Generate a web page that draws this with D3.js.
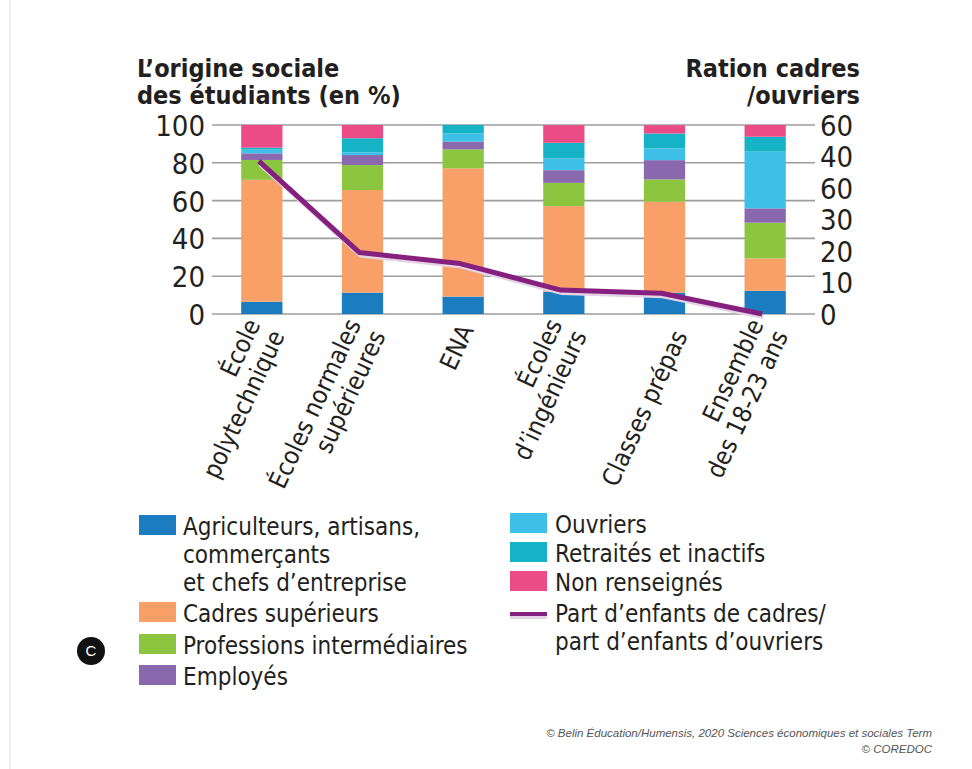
<!doctype html>
<html>
<head>
<meta charset="utf-8">
<title></title>
<style>
body{ margin:0; background:#fff; }
svg text{ font-family:"Liberation Sans Narrow","DejaVu Sans Condensed",sans-serif; fill:#231f20; }
</style>
</head>
<body>
<svg></svg>
<script src="https://cdn.jsdelivr.net/npm/d3@7"></script>
<script>
var width = 972;
var height = 769;

// données
var categories = [["École","polytechnique"],["Écoles normales","supérieures"],["ENA"],["Écoles","d’ingénieurs"],["","Classes prépas"],["Ensemble","des 18-23 ans"]];
var agriculteurs = [6.5, 11.3, 9.2, 11.8, 11.3, 12.3];
var cadres       = [64.5, 54.3, 67.9, 45.3, 48.1, 17.1];
var professions  = [10.5, 13.2, 10.0, 12.3, 11.8, 18.9];
var employes     = [3.5, 5.3, 4.1, 6.7, 10.2, 7.6];
var ouvriers     = [2.0, 1.5, 4.4, 6.2, 6.2, 30.0];
var retraites    = [1.0, 7.4, 4.4, 8.3, 7.9, 7.9];
var nonRens      = [12.0, 7.0, 0, 9.3, 4.4, 6.2];
var ratio        = [48.5, 19.5, 16.0, 7.6, 6.6, 0];
var leftTicks  = [0, 20, 40, 60, 80, 100];
var rightTicks = [0, 10, 20, 30, 40, 50, 60];
var rightTickLabels = ["0","10","20","30","60","40","60"];

var series = [
  {name:"agri", values:agriculteurs, color:"#1b7dc0"},
  {name:"cadres", values:cadres, color:"#f9a068"},
  {name:"prof", values:professions, color:"#8cc641"},
  {name:"emp", values:employes, color:"#8a68ae"},
  {name:"ouv", values:ouvriers, color:"#3dbfe8"},
  {name:"ret", values:retraites, color:"#16b3c7"},
  {name:"nr", values:nonRens, color:"#ec4c86"}
];

var svg = d3.select('svg').attr('width', width).attr('height', height);
svg.append("line").attr("x1",10).attr("x2",10).attr("y1",0).attr("y2",height)
   .attr("stroke","#e4e4e4").attr("stroke-width",1);

var x = d3.scaleBand().domain(d3.range(categories.length))
          .range([212, 815]).paddingInner(0.59).paddingOuter(0.29);
var y = d3.scaleLinear().domain([0, 100]).range([314, 125]);
var y2 = d3.scaleLinear().domain([0, 60]).range([314, 125]);

// grille
svg.append("g").selectAll("line").data(leftTicks).enter().append("line")
   .attr("x1", 212).attr("x2", 815)
   .attr("y1", function(d){ return y(d); }).attr("y2", function(d){ return y(d); })
   .attr("stroke", "#9d9d9d").attr("stroke-width", 1.6);

// axes
var axL = svg.append("g").attr("transform","translate(212,0)")
   .call(d3.axisLeft(y).tickValues(leftTicks).tickSize(0).tickPadding(7));
axL.select(".domain").remove();
axL.selectAll("text").style("font-size","29px").attr("dy","0.36em");

var axR = svg.append("g").attr("transform","translate(815,0)")
   .call(d3.axisRight(y2).tickValues(rightTicks).tickSize(0).tickPadding(5)
         .tickFormat(function(d,i){ return rightTickLabels[i]; }));
axR.select(".domain").remove();
axR.selectAll("text").style("font-size","29px").attr("dy","0.36em");

// barres empilées
var stackData = categories.map(function(c,i){
  var o = {i:i};
  series.forEach(function(s){ o[s.name] = s.values[i]; });
  return o;
});
var stacked = d3.stack().keys(series.map(function(s){ return s.name; }))(stackData);
svg.append("g").selectAll("g").data(stacked).enter().append("g")
   .attr("fill", function(d,i){ return series[i].color; })
   .selectAll("rect").data(function(d){ return d; }).enter().append("rect")
   .attr("x", function(d){ return x(d.data.i); })
   .attr("width", x.bandwidth())
   .attr("y", function(d){ return y(d[1]); })
   .attr("height", function(d){ return y(d[0]) - y(d[1]); });

// courbe du ratio
var line = d3.line()
   .x(function(d,i){ return x(i) + x.bandwidth()/2 - 3; })
   .y(function(d){ return y2(d); });
svg.append("path").datum(ratio).attr("d", line)
   .attr("transform","translate(1,3)")
   .attr("fill","none").attr("stroke","#e4d3e4").attr("stroke-width",4);
svg.append("path").datum(ratio).attr("d", line)
   .attr("fill","none").attr("stroke","#85207f").attr("stroke-width",5)
   .attr("stroke-linejoin","round");

// étiquettes de l'axe x
var lh = 27;
var xl = svg.append("g").selectAll("text").data(categories).enter().append("text")
   .attr("text-anchor","end")
   .style("font-size","25px")
   .attr("transform", function(d,i){ return "translate(" + (x(i) + x.bandwidth()/2 + 3) + ",326) rotate(-65)"; });
xl.selectAll("tspan").data(function(d){ return d.map(function(t,j){ return {t:t, j:j, n:d.length}; }); })
   .enter().append("tspan")
   .attr("x", 0)
   .attr("y", function(d){ return (d.j - (d.n-1)/2) * lh; })
   .attr("dy", "0.36em")
   .text(function(d){ return d.t; });

// titres
var tl = svg.append("text").attr("x",137).attr("y",77).style("font-size","25px").style("font-weight","bold");
tl.append("tspan").attr("x",137).text("L’origine sociale");
tl.append("tspan").attr("x",137).attr("dy",27).text("des étudiants (en %)");
var tr = svg.append("text").attr("x",860).attr("y",77).attr("text-anchor","end").style("font-size","25px").style("font-weight","bold");
tr.append("tspan").attr("x",860).text("Ration cadres");
tr.append("tspan").attr("x",860).attr("dy",27).text("/ouvriers");

// légende
var legendLeft = [
  {lines:["Agriculteurs, artisans,","commerçants","et chefs d’entreprise"], color:series[0].color, y:535},
  {lines:["Cadres supérieurs"], color:series[1].color, y:622},
  {lines:["Professions intermédiaires"], color:series[2].color, y:654},
  {lines:["Employés"], color:series[3].color, y:685}
];
var legendRight = [
  {lines:["Ouvriers"], color:series[4].color, y:533},
  {lines:["Retraités et inactifs"], color:series[5].color, y:562},
  {lines:["Non renseignés"], color:series[6].color, y:591},
  {lines:["Part d’enfants de cadres/","part d’enfants d’ouvriers"], color:"#85207f", y:622, isLine:true}
];
function drawLegend(items, sx, tx) {
  var g = svg.append("g").selectAll("g").data(items).enter().append("g");
  g.append("rect")
   .attr("x", sx).attr("width", 37)
   .attr("y", function(d){ return d.isLine ? d.y - 10 : d.y - 20; })
   .attr("height", function(d){ return d.isLine ? 4 : 20; })
   .attr("fill", function(d){ return d.color; });
  g.filter(function(d){ return d.isLine; }).append("rect")
   .attr("x", sx).attr("width", 37).attr("y", function(d){ return d.y - 6; }).attr("height", 3)
   .attr("fill", "#e4d3e4");
  var t = g.append("text").style("font-size","24px");
  t.selectAll("tspan").data(function(d){ return d.lines.map(function(l,j){ return {l:l, j:j, y:d.y}; }); })
   .enter().append("tspan")
   .attr("x", tx).attr("y", function(d){ return d.y + d.j * 28; })
   .text(function(d){ return d.l; });
}
drawLegend(legendLeft, 139, 183);
drawLegend(legendRight, 510, 555);

// pastille C
svg.append("circle").attr("cx",91).attr("cy",651).attr("r",14).attr("fill","#111");
svg.append("text").attr("x",91).attr("y",651).attr("dy","0.36em").attr("text-anchor","middle")
   .style("font-family","'Liberation Sans',sans-serif").style("font-size","15px").style("fill","#fff").text("C");

// source
svg.append("text").attr("x",932).attr("y",737).attr("text-anchor","end")
   .style("font-family","'Liberation Sans',sans-serif").style("font-style","italic").style("font-size","11.5px").style("fill","#555")
   .text("© Belin Éducation/Humensis, 2020 Sciences économiques et sociales Term");
svg.append("text").attr("x",932).attr("y",753).attr("text-anchor","end")
   .style("font-family","'Liberation Sans',sans-serif").style("font-style","italic").style("font-size","11.5px").style("fill","#555")
   .text("© COREDOC");
</script>
</body>
</html>
